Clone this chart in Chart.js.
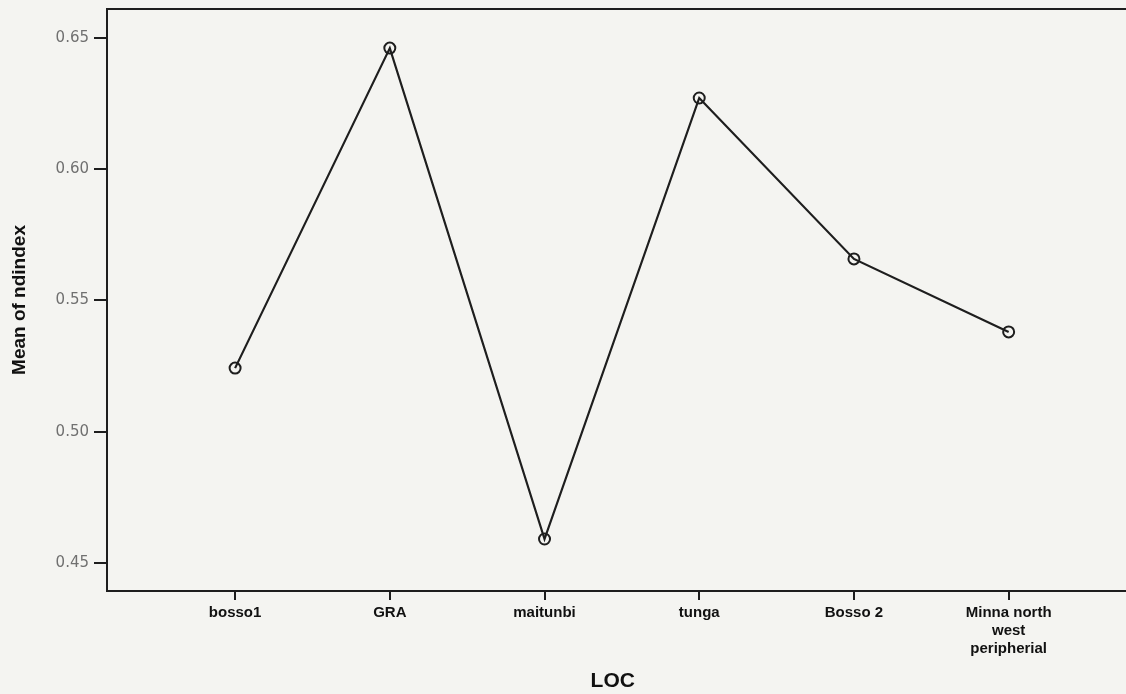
<!DOCTYPE html>
<html>
<head>
<meta charset="utf-8">
<script src="https://cdn.jsdelivr.net/npm/chart.js@4"></script>
<style>
  body { margin: 0; background: #f4f4f1; }
  #wrap { width: 1126px; height: 694px; position: relative; }
</style>
</head>
<body>
<div id="wrap"><canvas id="myChart"></canvas></div>
<script>
const locations = ["bosso1", "GRA", "maitunbi", "tunga", "Bosso 2", ["Minna north", "west", "peripherial"]];
const meanNdindex = [0.5242, 0.6461, 0.4591, 0.6271, 0.5658, 0.5380];
const yTicks = [0.45, 0.50, 0.55, 0.60, 0.65];

const ink = "#1e1e1e";

// frame lines run off the right edge of the picture in the reference
const frameLines = {
  id: "frameLines",
  afterDraw(chart) {
    const a = chart.chartArea;
    const ctx = chart.ctx;
    ctx.save();
    ctx.strokeStyle = ink;
    ctx.lineWidth = 2;
    ctx.beginPath();
    ctx.moveTo(a.left, a.top);
    ctx.lineTo(chart.width, a.top);
    ctx.moveTo(a.right - 1, a.bottom);
    ctx.lineTo(chart.width, a.bottom);
    ctx.stroke();
    ctx.restore();
  }
};

new Chart("myChart", {
  type: "line",
  data: {
    datasets: [{
      data: meanNdindex.map((v, i) => ({ x: i + 1, y: v })),
      borderColor: ink,
      borderWidth: 2.2,
      pointRadius: 5.5,
      pointBorderWidth: 2,
      pointBorderColor: ink,
      pointBackgroundColor: "rgba(0,0,0,0)",
      fill: false,
      tension: 0
    }]
  },
  plugins: [frameLines],
  options: {
    responsive: true,
    maintainAspectRatio: false,
    animation: false,
    layout: { padding: { top: 9, right: 0, left: 0, bottom: 0 } },
    plugins: { legend: { display: false }, tooltip: { enabled: false } },
    scales: {
      x: {
        type: "linear",
        min: 0.172,
        max: 6.71,
        afterBuildTicks: s => { s.ticks = locations.map((l, i) => ({ value: i + 1 })); },
        afterFit: s => { s.height = 103; },
        grid: { display: true, drawOnChartArea: false, drawTicks: true, tickLength: 9, color: ink, lineWidth: 2 },
        border: { display: true, color: ink, width: 2 },
        ticks: {
          autoSkip: false,
          maxRotation: 0,
          padding: 4,
          color: "#111",
          font: { family: "Liberation Sans", size: 15, weight: "bold", lineHeight: 1.2 },
          callback: v => locations[v - 1]
        },
        title: {
          display: true,
          text: "LOC",
          color: "#111",
          font: { family: "Liberation Sans", size: 21, weight: "bold" },
          padding: { top: 0, bottom: 0 }
        }
      },
      y: {
        min: 0.4393,
        max: 0.661,
        afterBuildTicks: s => { s.ticks = yTicks.map(v => ({ value: v })); },
        afterFit: s => { s.width = 107; s.paddingTop = 0; s.paddingBottom = 0; },
        grid: { display: true, drawOnChartArea: false, drawTicks: true, tickLength: 13, color: ink, lineWidth: 2 },
        border: { display: true, color: ink, width: 2 },
        ticks: {
          padding: 5,
          color: "#707070",
          font: { family: "DejaVu Sans", size: 15 },
          callback: v => v.toFixed(2)
        },
        title: {
          display: true,
          text: "Mean of ndindex",
          color: "#111",
          font: { family: "Liberation Sans", size: 19, weight: "bold" },
          padding: { top: 8, bottom: 0 }
        }
      }
    }
  }
});
</script>
</body>
</html>
